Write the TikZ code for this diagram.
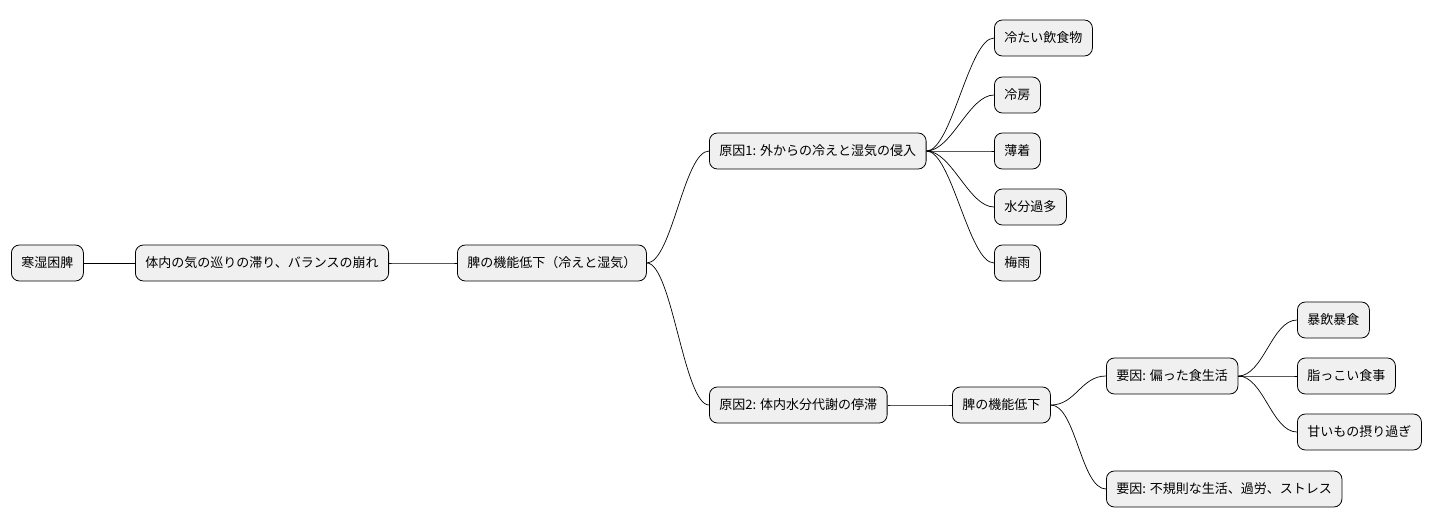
\documentclass[tikz,border=0pt]{standalone}
\usepackage{fontspec}
\setmainfont{Noto Sans CJK JP}
\tikzset{
  topic/.style={draw=black,fill=black!6,rounded corners=8pt,anchor=west,minimum height=36pt,inner xsep=10pt,font=\fontsize{13pt}{15pt}\selectfont,line width=0.8pt},
  branch/.style={line width=0.7pt}
}
\begin{document}
\begin{tikzpicture}[x=1pt,y=-1pt]
	\useasboundingbox (0,0) rectangle (1440,527);
	\node[topic] (root) at (11,263) {寒湿困脾};
	\node[topic] (flow) at (135,263) {体内の気の巡りの滞り、バランスの崩れ};
	\node[topic] (spleen) at (457,263) {脾の機能低下（冷えと湿気）};
	\node[topic] (cause1) at (709,151) {原因1: 外からの冷えと湿気の侵入};
	\node[topic] (cold) at (994,38) {冷たい飲食物};
	\node[topic] (aircon) at (994,95) {冷房};
	\node[topic] (thin) at (994,151) {薄着};
	\node[topic] (water) at (994,207) {水分過多};
	\node[topic] (rain) at (994,263) {梅雨};
	\node[topic] (cause2) at (709,405) {原因2: 体内水分代謝の停滞};
	\node[topic] (weak) at (952,405) {脾の機能低下};
	\node[topic] (diet) at (1106,376) {要因: 偏った食生活};
	\node[topic] (binge) at (1297,320) {暴飲暴食};
	\node[topic] (oily) at (1297,376) {脂っこい食事};
	\node[topic] (sweet) at (1297,432) {甘いもの摂り過ぎ};
	\node[topic] (life) at (1106,489) {要因: 不規則な生活、過労、ストレス};
	% connectors
	\foreach \a/\b in {root/flow,flow/spleen,spleen/cause1,spleen/cause2,cause1/cold,cause1/aircon,cause1/thin,cause1/water,cause1/rain,cause2/weak,weak/diet,weak/life,diet/binge,diet/oily,diet/sweet}
		\draw[branch] (\a.east) .. controls +(25,0) and +(-25,0) .. (\b.west);
\end{tikzpicture}
\end{document}
